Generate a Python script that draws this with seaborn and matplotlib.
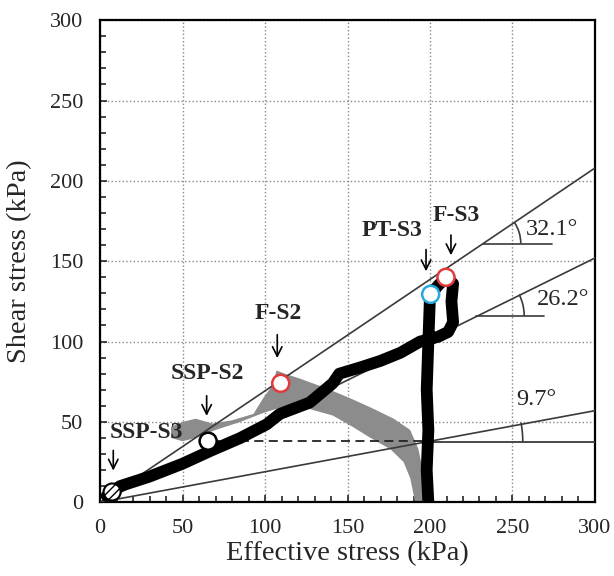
import numpy as np
import pandas as pd
import matplotlib
matplotlib.use("Agg")
import matplotlib.pyplot as plt
import seaborn as sns
from matplotlib.patches import Arc
from matplotlib.ticker import MultipleLocator

sns.set_style("ticks")
plt.rcParams['font.family'] = ['Liberation Serif', 'DejaVu Serif']
plt.rcParams['font.size'] = 16

# --- dados ---
# S2 (faixa cinza): borda superior e depois borda inferior
s2_upper_x = [43, 50, 58, 68, 80, 93, 99, 104, 107, 112, 121, 137, 151, 164, 178, 188, 193, 196, 198]
s2_upper_y = [47, 50, 52, 49, 51, 55, 65, 72, 82, 80, 77, 71, 65, 59, 52, 45, 33, 18, 0]
s2_lower_x = [191, 190, 188, 184, 176, 164, 153, 141, 127, 113, 100, 85, 70, 58, 50, 43]
s2_lower_y = [0, 5, 15, 25, 33, 40, 47, 54, 58, 60, 56, 50, 45, 40, 38, 40]

# S3 (trajetória preta)
s3_x = [199, 198, 199, 198, 199, 200, 205, 210, 214, 213, 214, 211, 205, 194, 182, 170, 158, 145, 141, 127, 109, 101, 85, 67, 50, 30, 12, 4]
s3_y = [0, 20, 45, 70, 100, 129, 135, 140, 136, 125, 112, 106, 103, 100, 93, 88, 84, 80, 74, 62, 55, 48.5, 40, 32, 24, 16, 10, 4]

# linhas de resistência (extremidades em x = 300)
lines_end_y = [208, 152, 57]
line_angles = ['32.1°', '26.2°', '9.7°']

# pontos marcados
pt_names = ['SSP-S3', 'SSP-S2', 'F-S2', 'PT-S3', 'F-S3']
pt_x = [7.3, 65.5, 109.5, 200.4, 209.7]
pt_y = [6.4, 38, 74, 129.4, 140]
pt_edge = ['black', 'black', '#e03a3a', '#2aa7e0', '#e03a3a']

# rótulos e setas
lab_x = [28, 65, 108, 177, 216]
lab_y = [43.5, 80, 117.5, 169, 178.5]
arr_x = [8, 64.6, 107.4, 197.6, 212.7]
arr_top = [34, 68, 106, 159, 168]
arr_bot = [18, 52, 88, 142, 152]

# linha tracejada de referência
dash_x = [67, 197]
dash_y = [38, 38]

fig = plt.figure(figsize=(6.14, 5.76), dpi=100)
ax = fig.add_axes([0.163, 0.128, 0.806, 0.837])

# faixa cinza S2
poly_x = s2_upper_x + s2_lower_x
poly_y = s2_upper_y + s2_lower_y
ax.fill(poly_x, poly_y, color='#8c8c8c', lw=0, zorder=2)

# linhas de resistência
for yend in lines_end_y:
    df_l = pd.DataFrame({'x': [0, 300], 'y': [0, yend]})
    sns.lineplot(data=df_l, x='x', y='y', color='#3a3a3a', lw=1.2, ax=ax, zorder=3)

# trajetória S3
df_s3 = pd.DataFrame({'x': s3_x, 'y': s3_y})
sns.lineplot(data=df_s3, x='x', y='y', sort=False, estimator=None, color='black',
             lw=8.5, ax=ax, zorder=4, solid_joinstyle='round', solid_capstyle='round')

# linha tracejada e horizontal do ângulo 9.7
ax.plot(dash_x, dash_y, color='#222', lw=1.3, ls=(0, (5, 3)), zorder=3)
ax.plot([201, 300], [37.5, 37.5], color='#3a3a3a', lw=1.3, zorder=3)

# arcos e rótulos dos ângulos
ang_vertex = [(232, 161), (228, 116), (192, 37.5)]
ang_h_end = [274, 269, 300]
ang_rad_px = [38, 48, 106]
ang_lab = [(258, 170), (265, 126), (252, 64)]
sx, sy = 495 / 300, 482 / 300
for (vx, vy), hend, rpx, (lx, ly), yend, txt in zip(ang_vertex, ang_h_end, ang_rad_px,
                                                    ang_lab, lines_end_y, line_angles):
    if hend < 300:
        ax.plot([vx, hend], [vy, vy], color='#3a3a3a', lw=1.2, zorder=3)
    theta = np.degrees(np.arctan(yend / 300))
    ax.add_patch(Arc((vx, vy), 2 * rpx / sx, 2 * rpx / sy, theta1=0, theta2=theta,
                     color='#3a3a3a', lw=1.2, zorder=3))
    ax.text(lx, ly, txt, fontsize=17.5, ha='left', va='center', zorder=6)

# círculos
sns.scatterplot(x=pt_x[1:], y=pt_y[1:], color='white', edgecolor=pt_edge[1:],
                linewidth=1.8, s=150, ax=ax, zorder=5)
ax.scatter(pt_x[:1], pt_y[:1], s=150, facecolor='white', edgecolor='black',
           linewidth=1.5, hatch='////', zorder=5)

# setas e rótulos
for name, lx, ly, xa, at, ab in zip(pt_names, lab_x, lab_y, arr_x, arr_top, arr_bot):
    ax.text(lx, ly, name, fontsize=17, fontweight='bold', ha='center', va='center', zorder=6)
    ax.annotate('', xy=(xa, ab), xytext=(xa, at),
                arrowprops=dict(arrowstyle='->', color='black', lw=1.2, mutation_scale=17),
                zorder=6)

ax.set_xlim(0, 300)
ax.set_ylim(0, 300)
ax.xaxis.set_major_locator(MultipleLocator(50))
ax.yaxis.set_major_locator(MultipleLocator(50))
ax.xaxis.set_minor_locator(MultipleLocator(10))
ax.yaxis.set_minor_locator(MultipleLocator(10))
ax.tick_params(which='both', direction='in', labelsize=16, width=1.2)
ax.tick_params(which='major', length=5, pad=12)
ax.tick_params(which='minor', length=4)
ax.grid(True, which='major', ls=':', color='#888', lw=1)
ax.set_axisbelow(True)
for sp in ax.spines.values():
    sp.set_linewidth(1.6)
    sp.set_color('black')
ax.set_xlabel('Effective stress (kPa)', fontsize=20.5)
ax.set_ylabel('Shear stress (kPa)', fontsize=20.5)
ax.xaxis.set_label_coords(0.5, -0.08)
ax.yaxis.set_label_coords(-0.137, 0.5)

fig.savefig('out.png', dpi=100)
